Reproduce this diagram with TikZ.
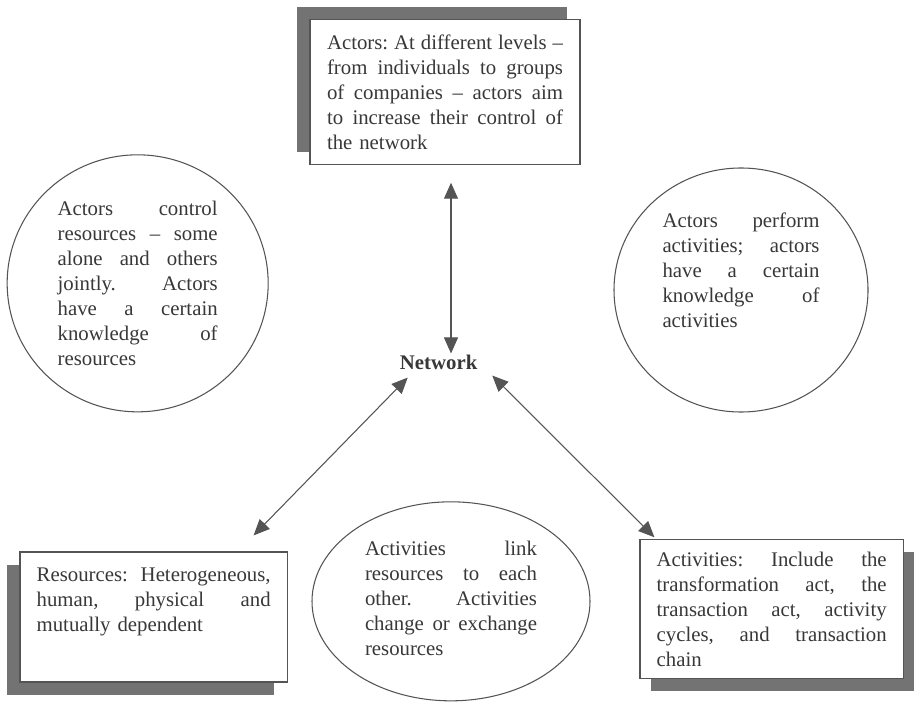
\documentclass[tikz,border=0pt]{standalone}
\usepackage{fontspec}
\setmainfont{Liberation Serif}
\usetikzlibrary{arrows.meta,shapes.geometric,shadows}
\definecolor{inkgray}{gray}{0.22}
\definecolor{linegray}{gray}{0.33}
\definecolor{shadegray}{gray}{0.45}
% one justified line of a block
\newcommand{\jline}[1]{\makebox[\hsize][s]{\spaceskip=0.25em plus 1fil\relax #1}\\}
\begin{document}
\begin{tikzpicture}[
    every node/.style={text=inkgray, font=\fontsize{17.75}{21.3}\selectfont\frenchspacing},
    panel/.style={draw=linegray, line width=1pt, fill=white, align=left, inner xsep=0.5cm, inner ysep=0.3cm},
    bubble/.style={draw=linegray, line width=0.9pt, ellipse, inner sep=0pt, align=left},
    hub/.style={inner sep=0pt, font=\fontsize{17.75}{21.3}\selectfont\bfseries},
    link/.style={draw=linegray, line width=0.9pt, {Triangle[length=0.48cm,width=0.42cm]}-{Triangle[length=0.48cm,width=0.42cm]}}
]
\path[fill=white, use as bounding box] (0,0) rectangle (27.57,21.18);

% the three boxes
\node[panel, text width=7.08cm, minimum width=8.1cm, minimum height=4.35cm,
      drop shadow={shadow xshift=-0.39cm, shadow yshift=0.39cm, fill=shadegray, opacity=1}]
      (actors) at (13.35,18.41) {%
  \jline{Actors: At different levels --}
  \jline{from individuals to groups}
  \jline{of companies -- actors aim}
  \jline{to increase their control of}
  the network};
\node[panel, text width=7.02cm, minimum width=8.01cm, minimum height=3.9cm, text depth=2.56cm,
      drop shadow={shadow xshift=-0.39cm, shadow yshift=-0.39cm, fill=shadegray, opacity=1}]
      (res) at (4.61,2.67) {%
  \jline{Resources: Heterogeneous,}
  \jline{human, physical and}
  mutually dependent};
\node[panel, text width=6.9cm, minimum width=7.89cm, minimum height=4.17cm,
      drop shadow={shadow xshift=0.33cm, shadow yshift=-0.36cm, fill=shadegray, opacity=1}]
      (act) at (23.15,2.90) {%
  \jline{Activities: Include the}
  \jline{transformation act, the}
  \jline{transaction act, activity}
  \jline{cycles, and transaction}
  chain};

% the three circles
\node[bubble, text width=4.8cm, minimum width=7.83cm, minimum height=7.71cm] (actres) at (4.13,12.68) {%
  \jline{Actors control}
  \jline{resources -- some}
  \jline{alone and others}
  \jline{jointly. Actors}
  \jline{have a certain}
  \jline{knowledge of}
  resources};
\node[bubble, text width=4.71cm, minimum width=7.62cm, minimum height=7.32cm, text depth=4.17cm] (actact) at (22.23,12.48) {%
  \jline{Actors perform}
  \jline{activities; actors}
  \jline{have a certain}
  \jline{knowledge of}
  activities};
\node[bubble, text width=5.16cm, minimum width=8.34cm, minimum height=5.97cm, text depth=3.17cm] (actlink) at (13.53,3.14) {%
  \jline{Activities link}
  \jline{resources to each}
  \jline{other. Activities}
  \jline{change or exchange}
  resources};

\node[hub] (net) at (13.16,10.30) {Network};

\draw[link] ([shift={(0.18,-0.52)}]actors.south) -- ([shift={(0.37,0.05)}]net.north);
\draw[link] ([shift={(0.24,-0.22)}]net.south west) -- ([shift={(-1.03,0.48)}]res.north east);
\draw[link] ([shift={(0.44,-0.16)}]net.south east) -- ([shift={(0.45,0.06)}]act.north west);
\end{tikzpicture}
\end{document}
